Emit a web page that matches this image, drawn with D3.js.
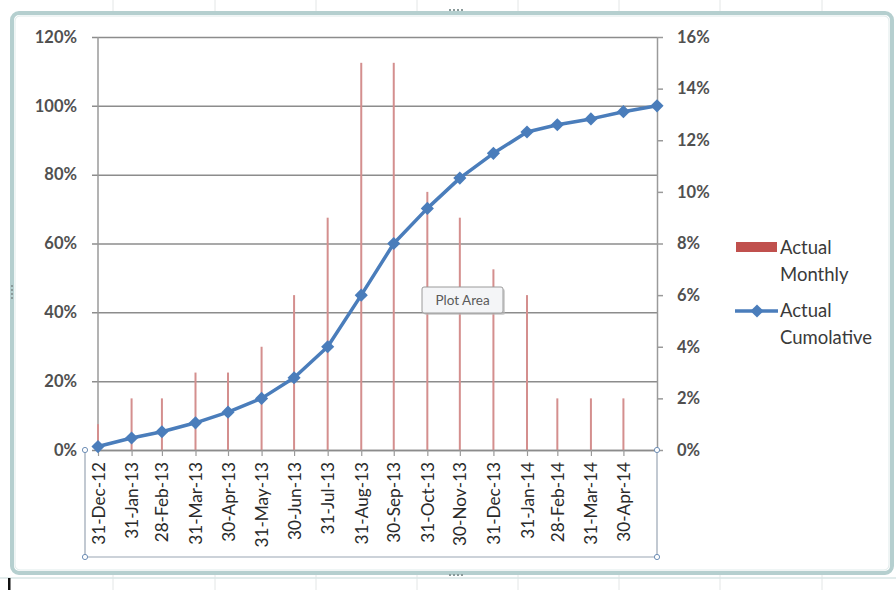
<!DOCTYPE html>
<html>
<head>
<meta charset="utf-8">
<script src="https://cdn.jsdelivr.net/npm/d3@7/dist/d3.min.js"></script>
<style>
  html, body { margin: 0; padding: 0; background: #fff; }
  svg { display: block; }
  text { font-family: Lato, "Open Sans", sans-serif; }
</style>
</head>
<body>
<svg id="chart" width="896" height="590"></svg>
<script>
// Month-end reporting dates (the last one only carries the cumulative point)
const dates = ["2012-12-31","2013-01-31","2013-02-28","2013-03-31","2013-04-30","2013-05-31",
  "2013-06-30","2013-07-31","2013-08-31","2013-09-30","2013-10-31","2013-11-30",
  "2013-12-31","2014-01-31","2014-02-28","2014-03-31","2014-04-30","2014-05-31"];
// Dates shown as labels on the category axis
const tickLabels = ["31-Dec-12","31-Jan-13","28-Feb-13","31-Mar-13","30-Apr-13","31-May-13",
  "30-Jun-13","31-Jul-13","31-Aug-13","30-Sep-13","31-Oct-13","30-Nov-13",
  "31-Dec-13","31-Jan-14","28-Feb-14","31-Mar-14","30-Apr-14"];
// Actual Monthly (secondary axis, %)
const monthly = [1, 2, 2, 3, 3, 4, 6, 9, 15, 15, 10, 9, 7, 6, 2, 2, 2];
// Actual Cumolative (primary axis, %)
const cumulative = [1, 3.5, 5.3, 7.9, 11, 15, 21, 30, 45, 60, 70.2, 79, 86.2, 92.4, 94.5, 96.2, 98.3, 100];
const leftTicks = [0, 20, 40, 60, 80, 100, 120];
const rightTicks = [0, 2, 4, 6, 8, 10, 12, 14, 16];

const parse = d3.utcParse("%Y-%m-%d");
const dd = dates.map(parse);

const svg = d3.select("#chart");
const W = 896, H = 590;
const plot = { left: 98, right: 657, top: 37, bottom: 450 };

const x = d3.scaleUtc().domain([dd[0], dd[dd.length - 1]]).range([plot.left, plot.right]);
const yL = d3.scaleLinear().domain([0, 120]).range([plot.bottom, plot.top]);
const yR = d3.scaleLinear().domain([0, 16]).range([plot.bottom, plot.top]);

// ---- worksheet behind the chart object ----
const sheetCols = [113, 215, 316, 417, 518, 619, 720, 822];
svg.append("g").selectAll("line").data(sheetCols).join("line")
  .attr("x1", d => d).attr("x2", d => d).attr("y1", 0).attr("y2", H)
  .attr("stroke", "#e3e6e6").attr("stroke-width", 1);
svg.append("line").attr("x1", 0).attr("x2", W).attr("y1", 578).attr("y2", 578)
  .attr("stroke", "#d8e6e6").attr("stroke-width", 1.5);
svg.append("rect").attr("x", 8).attr("y", 578).attr("width", 2.5).attr("height", 12).attr("fill", "#111");

// ---- chart area frame ----
svg.append("rect").attr("x", 12).attr("y", 13).attr("width", 880).attr("height", 560)
  .attr("rx", 7).attr("fill", "#fff").attr("stroke", "#b5cfcf").attr("stroke-width", 4);
svg.append("rect").attr("x", 15).attr("y", 16).attr("width", 874).attr("height", 554)
  .attr("rx", 5).attr("fill", "none").attr("stroke", "#dfeaea").attr("stroke-width", 1);
// grip dots on the frame
const grip = (cx, cy, vertical) => {
  for (let i = 0; i < 4; i++) {
    svg.append("rect")
      .attr("x", vertical ? cx - 1 : cx + i * 4).attr("y", vertical ? cy + i * 4 : cy - 1)
      .attr("width", 2).attr("height", 2).attr("fill", "#8a9a9a");
  }
};
grip(449, 10, false);
grip(449, 575, false);
grip(12, 285, true);

// ---- gridlines and left axis ----
const gLeft = svg.append("g").attr("transform", `translate(${plot.left},0)`)
  .call(d3.axisLeft(yL).tickValues(leftTicks).tickFormat(d => d + "%")
    .tickSize(-(plot.right - plot.left)).tickSizeOuter(0).tickPadding(21));
gLeft.select(".domain").remove();
gLeft.selectAll(".tick line").attr("x1", -6).attr("stroke", "#8c8c8c").attr("stroke-width", 1.5);
gLeft.selectAll(".tick text").attr("font-size", 16.5).attr("font-weight", 700)
  .attr("fill", "#505050").attr("font-family", "Lato, sans-serif");

// ---- right axis ----
const gRight = svg.append("g").attr("transform", `translate(${plot.right},0)`)
  .call(d3.axisRight(yR).tickValues(rightTicks).tickFormat(d => d + "%")
    .tickSize(6).tickSizeOuter(0).tickPadding(14));
gRight.select(".domain").attr("stroke", "#9a9a9a").attr("stroke-width", 1.5);
gRight.selectAll(".tick line").attr("stroke", "#9a9a9a").attr("stroke-width", 1.5);
gRight.selectAll(".tick text").attr("font-size", 16.5).attr("font-weight", 700)
  .attr("fill", "#505050").attr("font-family", "Lato, sans-serif");

// left vertical axis line
svg.append("line").attr("x1", plot.left).attr("x2", plot.left)
  .attr("y1", plot.top).attr("y2", plot.bottom).attr("stroke", "#9a9a9a").attr("stroke-width", 1.5);

// ---- monthly bars (thin columns on the secondary axis) ----
svg.append("g").selectAll("rect").data(monthly).join("rect")
  .attr("x", (d, i) => x(dd[i]) - 1)
  .attr("y", d => yR(d))
  .attr("width", 2)
  .attr("height", d => yR(0) - yR(d))
  .attr("fill", "#d48f8e");

// ---- date axis ----
const tickDates = tickLabels.map((t, i) => dd[i]);
const gX = svg.append("g").attr("transform", `translate(0,${plot.bottom})`)
  .call(d3.axisBottom(x).tickValues(tickDates).tickFormat((d, i) => tickLabels[i])
    .tickSize(6).tickSizeOuter(0).tickPadding(6));
gX.select(".domain").attr("stroke", "#8c8c8c").attr("stroke-width", 1.5);
gX.selectAll(".tick line").attr("stroke", "#9a9a9a").attr("stroke-width", 1.2);
gX.selectAll(".tick text")
  .attr("transform", "rotate(-90)")
  .attr("text-anchor", "end")
  .attr("dy", "0.35em")
  .attr("x", -12).attr("y", 0)
  .attr("font-size", 17.2).attr("fill", "#2a2a2a")
  .attr("font-family", "Lato, sans-serif");

// ---- cumulative line with diamond markers ----
const line = d3.line().x((d, i) => x(dd[i])).y(d => yL(d));
svg.append("path").datum(cumulative).attr("d", line)
  .attr("fill", "none").attr("stroke", "#4a7dbb").attr("stroke-width", 3.5)
  .attr("stroke-linejoin", "round");
const diamond = d3.symbol().type(d3.symbolDiamond2).size(110);
svg.append("g").selectAll("path").data(cumulative).join("path")
  .attr("transform", (d, i) => `translate(${x(dd[i])},${yL(d)})`)
  .attr("d", diamond).attr("fill", "#4a7dbb");

// ---- plot area selection outline ----
const sel = svg.append("g").attr("fill", "none").attr("stroke", "#9aa6b4").attr("stroke-width", 1.2);
sel.append("polyline").attr("points", `85,${plot.bottom} 85,557 ${plot.right},557 ${plot.right},${plot.bottom}`);
[[85, plot.bottom], [85, 557], [plot.right, plot.bottom], [plot.right, 557]].forEach(([cx, cy]) => {
  svg.append("circle").attr("cx", cx).attr("cy", cy).attr("r", 2.6)
    .attr("fill", "#fff").attr("stroke", "#6f8fb6").attr("stroke-width", 1);
});

// ---- legend ----
const lg = svg.append("g").attr("font-family", "Lato, sans-serif").attr("font-size", 18.5).attr("fill", "#3a3a3a");
lg.append("rect").attr("x", 736).attr("y", 242).attr("width", 41).attr("height", 10).attr("fill", "#c0504d");
lg.append("text").attr("x", 780).attr("y", 254).text("Actual");
lg.append("text").attr("x", 780).attr("y", 281).text("Monthly");
lg.append("line").attr("x1", 735).attr("x2", 778).attr("y1", 311).attr("y2", 311)
  .attr("stroke", "#4a7dbb").attr("stroke-width", 3.5);
lg.append("path").attr("transform", "translate(757,311)").attr("d", diamond).attr("fill", "#4a7dbb");
lg.append("text").attr("x", 780).attr("y", 317).text("Actual");
lg.append("text").attr("x", 780).attr("y", 344).text("Cumolative");

// ---- hover tooltip ----
const tip = svg.append("g").attr("transform", "translate(422,287)");
tip.append("rect").attr("x", 2).attr("y", 2).attr("width", 81).attr("height", 26).attr("rx", 2)
  .attr("fill", "#b8b8b8").attr("opacity", 0.6);
tip.append("rect").attr("width", 81).attr("height", 26).attr("rx", 2)
  .attr("fill", "#f4f5f7").attr("stroke", "#9a9a9a").attr("stroke-width", 1);
tip.append("text").attr("x", 40.5).attr("y", 18).attr("text-anchor", "middle")
  .attr("font-size", 13.5).attr("fill", "#5a5a5a").attr("font-family", "Lato, sans-serif").text("Plot Area");
</script>
</body>
</html>
